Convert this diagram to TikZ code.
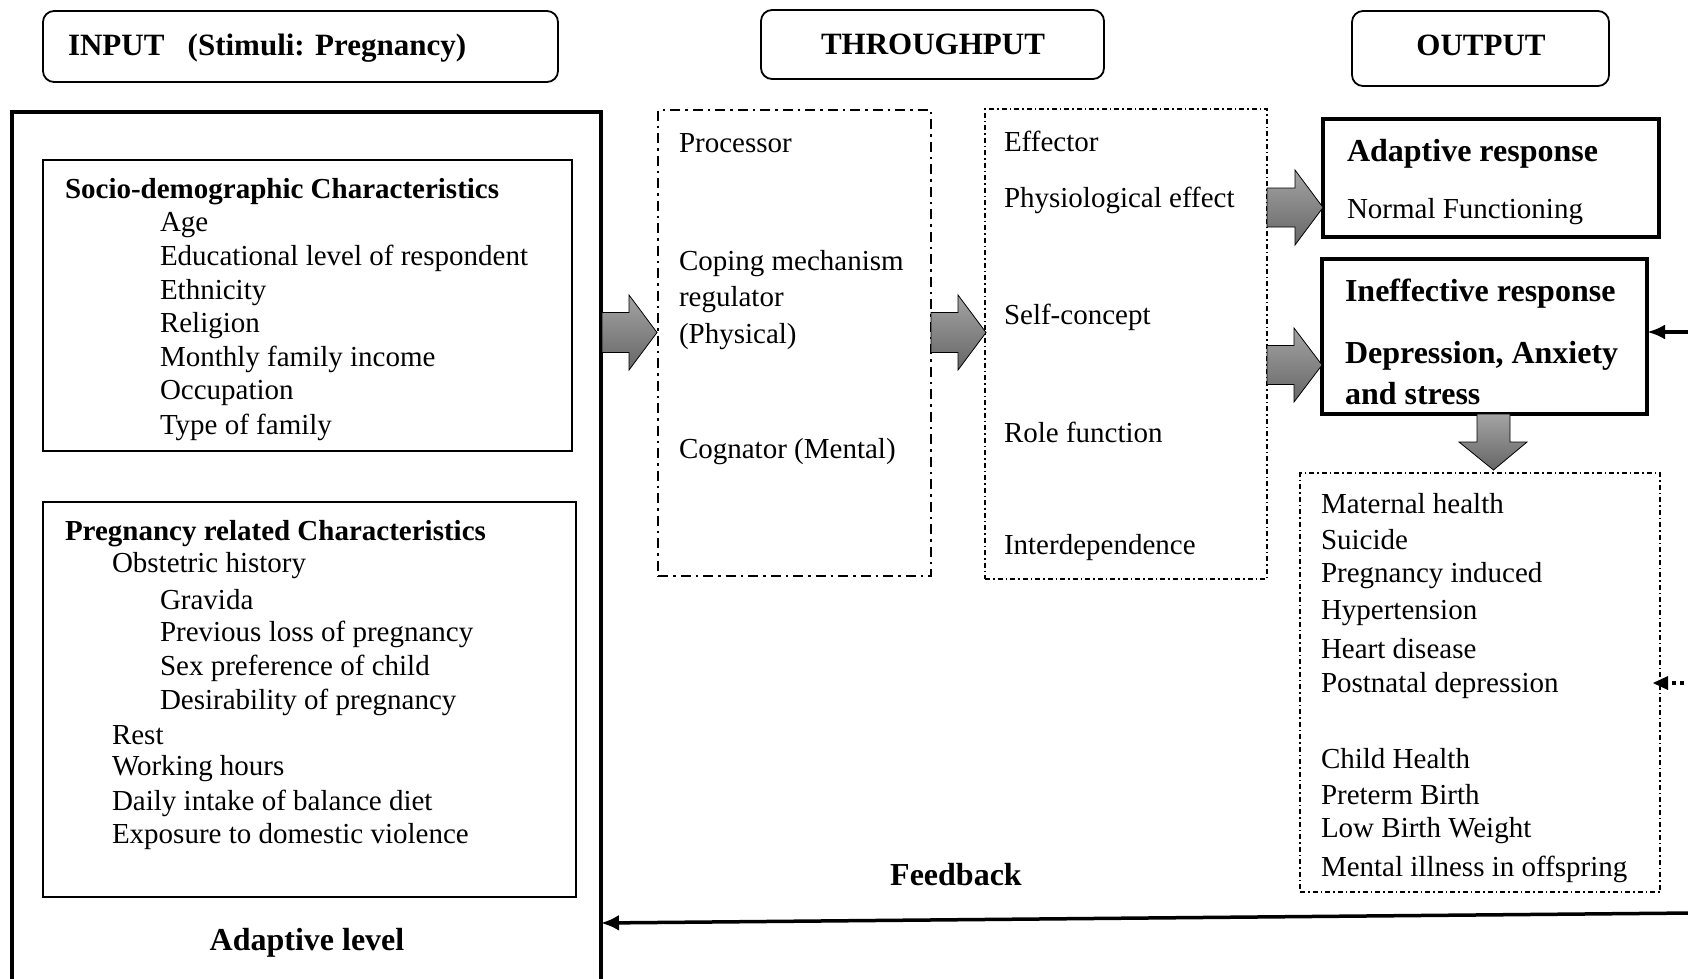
\documentclass[tikz,border=0pt]{standalone}
\usepackage{fontspec}
\setmainfont{Liberation Serif}
\usetikzlibrary{arrows.meta}
\begin{document}
\begin{tikzpicture}[x=1pt,y=-1pt,
  every node/.style={inner sep=0pt, outer sep=0pt},
  txt/.style={anchor=west, yshift=-3pt, font=\fontsize{29}{34}\selectfont},
  btxt/.style={anchor=west, yshift=-3pt, font=\fontsize{29}{34}\selectfont\bfseries},
  bigb/.style={yshift=-3pt, font=\fontsize{32}{36}\selectfont\bfseries},
  bigr/.style={anchor=west, yshift=-3pt, font=\fontsize{32}{36}\selectfont\bfseries},
  headtxt/.style={font=\fontsize{31}{36}\selectfont\bfseries},
  headbox/.style={draw, rounded corners=11pt, line width=1.8pt, anchor=north west},
  thinbox/.style={draw, line width=1.2pt, anchor=north west},
  thickbox/.style={draw, line width=3.5pt, anchor=north west},
  procbox/.style={draw, line width=2.2pt, dash pattern=on 10pt off 5pt on 2.5pt off 5pt, anchor=north west},
  effbox/.style={draw, line width=1.2pt, dash pattern=on 5pt off 3pt on 1.5pt off 3pt, anchor=north west},
  blockarrow/.style={draw=black, line width=0.8pt, top color=black!36, bottom color=black!60},
  fbarrow/.style={line width=3.5pt, -{Latex[length=18pt,width=16pt]}},
]
\useasboundingbox (0,0) rectangle (1688,978);
\clip (0,0) rectangle (1688,978);
\fill[white] (0,0) rectangle (1688,978);

% headers
\node[headbox, minimum width=515pt, minimum height=71pt] (inhead) at (43,11) {};
\node[headtxt, anchor=west] (inheadt) at (68,48) {INPUT\hspace{0.75em}(Stimuli: Pregnancy)};
\node[headbox, minimum width=343pt, minimum height=69pt] (thhead) at (761,10) {};
\node[headtxt] (thheadt) at (933,44) {THROUGHPUT};
\node[headbox, minimum width=257pt, minimum height=75pt] (outhead) at (1352,11) {};
\node[headtxt] (outheadt) at (1481,45) {OUTPUT};

% input big box
\node[draw, line width=4pt, anchor=north west, minimum width=589pt, minimum height=900pt] (bigbox) at (12,112) {};

\node[thinbox, minimum width=529pt, minimum height=291pt] (socio) at (43,160) {};
\node[btxt] (s0) at (65,189) {Socio-demographic Characteristics};
\node[txt] (s1) at (160,222) {Age};
\node[txt] (s2) at (160,255) {Educational level of respondent};
\node[txt] (s3) at (160,290) {Ethnicity};
\node[txt] (s4) at (160,323) {Religion};
\node[txt] (s5) at (160,356) {Monthly family income};
\node[txt] (s6) at (160,390) {Occupation};
\node[txt] (s7) at (160,424) {Type of family};

\node[thinbox, minimum width=533pt, minimum height=395pt] (preg) at (43,502) {};
\node[btxt] (p0) at (65,531) {Pregnancy related Characteristics};
\node[txt] (p1) at (112,563) {Obstetric history};
\node[txt] (p2) at (160,597) {Gravida};
\node[txt] (p3) at (160,631) {Previous loss of pregnancy};
\node[txt] (p4) at (160,665) {Sex preference of child};
\node[txt] (p5) at (160,699) {Desirability of pregnancy};
\node[txt] (p6) at (112,732) {Rest};
\node[txt] (p7) at (112,766) {Working hours};
\node[txt] (p8) at (112,800) {Daily intake of balance diet};
\node[txt] (p9) at (112,834) {Exposure to domestic violence};

\node[bigb] (adlevel) at (307,940) {Adaptive level};

% throughput
\node[procbox, minimum width=273pt, minimum height=466pt] (proc) at (658,110) {};
\node[txt] (pr0) at (679,140) {Processor};
\node[txt] (pr1) at (679,261) {Coping mechanism};
\node[txt] (pr2) at (679,297) {regulator};
\node[txt] (pr3) at (679,334) {(Physical)};
\node[txt] (pr4) at (679,449) {Cognator (Mental)};

\node[effbox, minimum width=282pt, minimum height=470pt] (eff) at (985,109) {};
\node[txt] (e0) at (1004,138) {Effector};
\node[txt] (e1) at (1004,197) {Physiological effect};
\node[txt] (e2) at (1004,314) {Self-concept};
\node[txt] (e3) at (1004,429) {Role function};
\node[txt] (e4) at (1004,545) {Interdependence};

% output
\node[thickbox, minimum width=336pt, minimum height=118pt] (adresp) at (1323,119) {};
\node[bigr] (a0) at (1347,151) {Adaptive response};
\node[txt] (a1) at (1347,209) {Normal Functioning};

\node[thickbox, minimum width=325pt, minimum height=155pt] (inef) at (1322,259) {};
\node[bigr] (i0) at (1345,291) {Ineffective response};
\node[bigr] (i1) at (1345,353) {Depression, Anxiety};
\node[bigr] (i2) at (1345,391) {and stress};

\node[effbox, minimum width=360pt, minimum height=419pt] (outc) at (1300,473) {};
\node[txt] (o1) at (1321,501) {Maternal health};
\node[txt] (o2) at (1321,537) {Suicide};
\node[txt] (o3) at (1321,573) {Pregnancy induced};
\node[txt] (o4) at (1321,610) {Hypertension};
\node[txt] (o5) at (1321,646) {Heart disease};
\node[txt] (o6) at (1321,683) {Postnatal depression};
\node[txt] (o7) at (1321,756) {Child Health};
\node[txt] (o8) at (1321,792) {Preterm Birth};
\node[txt] (o9) at (1321,828) {Low Birth Weight};
\node[txt] (o10) at (1321,866) {Mental illness in offspring};

\node[bigb] (fbl) at (956,872) {Feedback};

% block arrows
\draw[blockarrow] (602,312.5) -- (629,312.5) -- (629,295) -- (657,332.5) -- (629,370) -- (629,352.5) -- (602,352.5) -- cycle;
\draw[blockarrow] (931,312.5) -- (958,312.5) -- (958,295) -- (986,332.5) -- (958,370) -- (958,352.5) -- (931,352.5) -- cycle;
\draw[blockarrow] (1267,188) -- (1295,188) -- (1295,170) -- (1323,207.5) -- (1295,245) -- (1295,227) -- (1267,227) -- cycle;
\draw[blockarrow] (1267,345.5) -- (1294,345.5) -- (1294,328) -- (1322,365) -- (1294,402) -- (1294,384.5) -- (1267,384.5) -- cycle;
\draw[blockarrow] (1477,414) -- (1510,414) -- (1510,442) -- (1527,442) -- (1493.5,470) -- (1459,442) -- (1477,442) -- cycle;

% feedback arrows from the right
\coordinate (rin) at (1692,332);
\draw[line width=3.5pt, -{Latex[length=18pt,width=15pt]}] (rin) -- (rin -| inef.east);
\coordinate (rout) at (1692,683);
\coordinate (routend) at (1653,683);
\draw[line width=4pt, dash pattern=on 4pt off 4pt] (rout) -- (1666,683);
\fill (routend) -- (1668,676) -- (1668,690) -- cycle;
\coordinate (rbot) at (1692,913);
\coordinate (rbotend) at (601,923);
\draw[fbarrow] (rbot) -- (rbotend);
\end{tikzpicture}
\end{document}
